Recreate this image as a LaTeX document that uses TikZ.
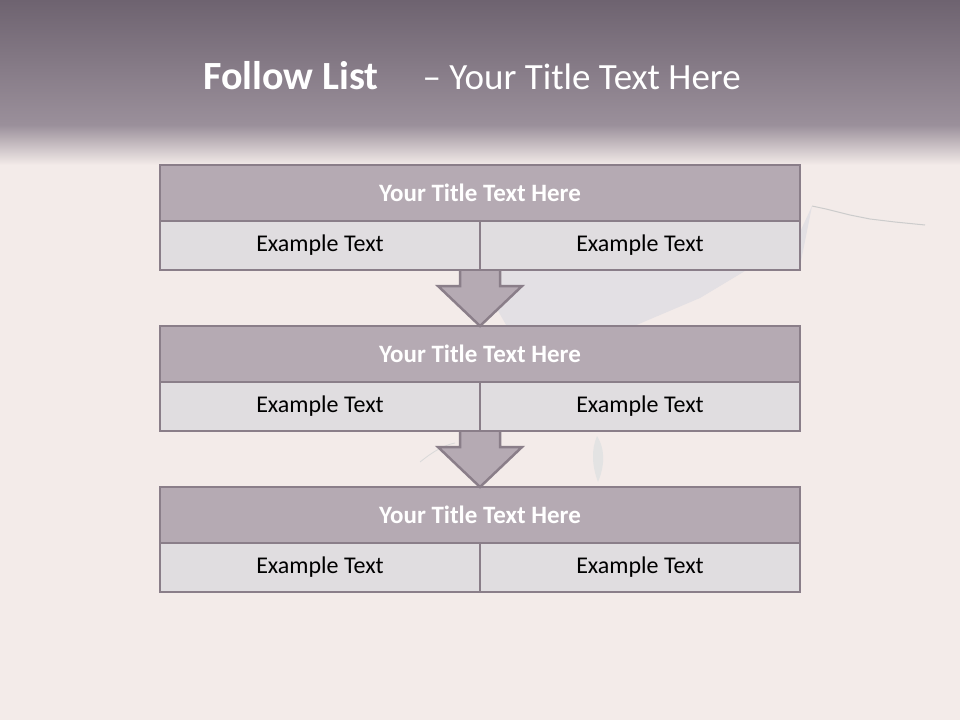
\documentclass[tikz,border=0pt]{standalone}
\usepackage{fontspec}
\setmainfont{Carlito}
\usetikzlibrary{calc}
\definecolor{bgpaper}{HTML}{F3EBE9}
\definecolor{bandtop}{HTML}{6E6370}
\definecolor{bandlow}{HTML}{9B909B}
\definecolor{headfill}{HTML}{B5AAB3}
\definecolor{cellfill}{HTML}{E0DDE0}
\definecolor{edgecol}{HTML}{8A7E89}
\definecolor{tornfill}{HTML}{E3E0E4}

\begin{document}
\begin{tikzpicture}[x=1pt, y=-1pt,
    headbox/.style={rectangle, draw=edgecol, line width=2.5pt, fill=headfill,
                    minimum width=640pt, minimum height=56pt, inner sep=0pt, outer sep=0pt,
                    font=\fontsize{25}{30}\selectfont\bfseries, text=white},
    cellbox/.style={rectangle, draw=edgecol, line width=2.5pt, fill=cellfill,
                    minimum width=320pt, minimum height=49pt, inner sep=0pt, outer sep=0pt,
                    font=\fontsize{24}{29}\selectfont, text=black},
    blockarr/.style={draw=edgecol, line width=2.5pt, fill=headfill, line join=miter},
  ]
  % page and title band
  \fill[bgpaper] (0,0) rectangle (960,720);
  \shade[top color=bandtop, bottom color=bandlow] (0,0) rectangle (960,126);
  \shade[top color=bandlow, bottom color=bgpaper] (0,125) rectangle (960,165);
  \node[anchor=west, inner sep=0pt, text=white, font=\fontsize{37}{44}\selectfont] (title) at (203,76)
    {{\fontsize{40}{44}\selectfont\bfseries Follow List}\hspace{44pt}– Your Title Text Here};

  % torn paper and cracks behind the list
  \fill[tornfill] (812,206) -- (800,232) -- (760,262) -- (700,298) -- (620,332)
    -- (510,332) -- (492,300) -- (500,266) -- (800,266) -- cycle;
  \draw[gray!40, line width=1pt] (812,206) -- (826,209) -- (850,215) -- (870,219)
    -- (895,222) -- (925,225);
  \draw[gray!30, line width=0.8pt] (420,462) .. controls (435,450) and (445,445) .. (455,443);
  \fill[gray!22] (597,436) .. controls (606,450) and (604,468) .. (598,482)
    .. controls (592,466) and (591,450) .. (597,436);

  % three steps
  \foreach \i/\y in {1/165, 2/326, 3/487} {
    \node[headbox, anchor=north] (h\i) at (480,\y) {Your Title Text Here};
    \node[cellbox, anchor=north east] (l\i) at (h\i.south) {Example Text};
    \node[cellbox, anchor=north west] (r\i) at (h\i.south) {Example Text};
  }

  % block arrows between the steps
  \foreach \a/\b in {1/2, 2/3} {
    \draw[blockarr] ($(l\a.south east)+(-20,1)$) -- ++(0,15) -- ++(-22,0)
      -- (h\b.north) -- ($(l\a.south east)+(42,16)$) -- ++(-22,0) -- ++(0,-15);
  }
\end{tikzpicture}
\end{document}
